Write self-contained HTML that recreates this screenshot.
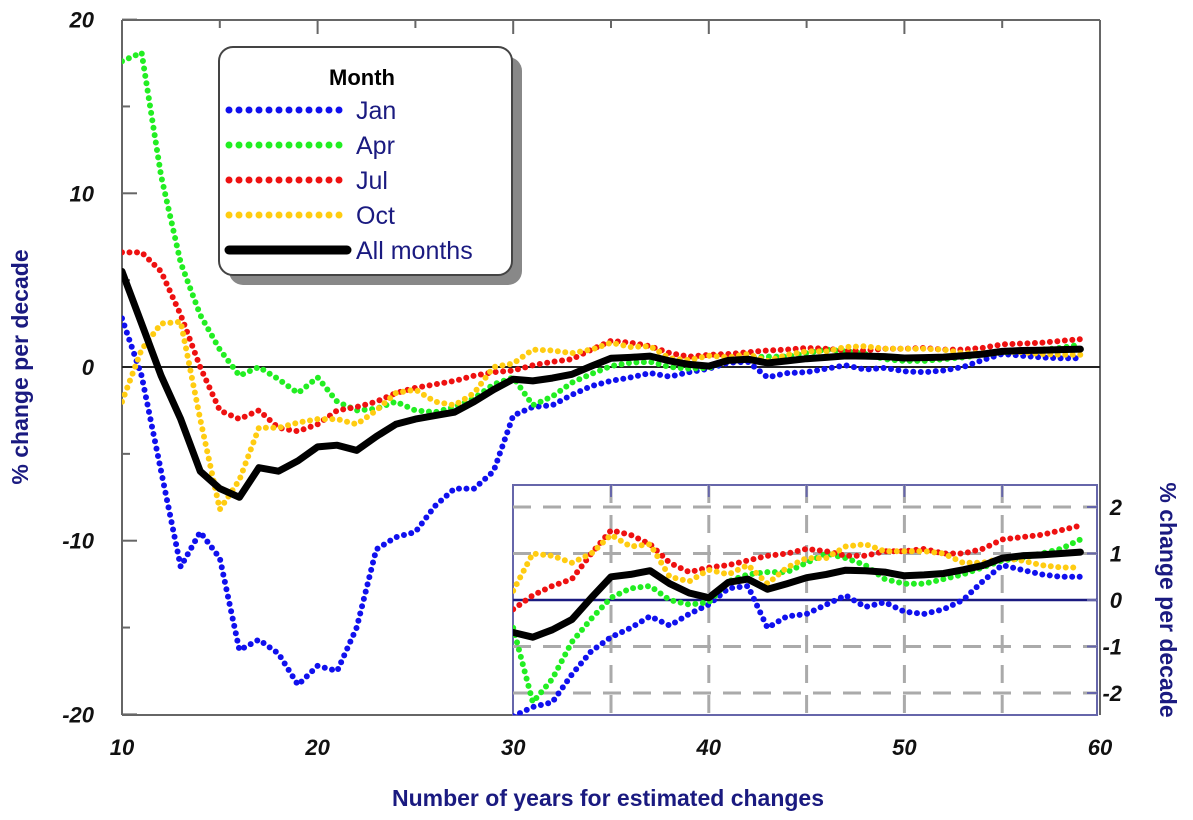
<!DOCTYPE html>
<html><head><meta charset="utf-8">
<style>
html,body{margin:0;background:#fff;overflow:hidden;width:1193px;height:820px;}
svg{display:block;font-family:"Liberation Sans",Arial,sans-serif;}
</style></head>
<body>
<svg id="chart" width="1193" height="820" viewBox="0 0 1193 820" xmlns="http://www.w3.org/2000/svg">
<defs>
<clipPath id="mainClip"><rect x="122" y="20" width="978" height="695"/></clipPath>
<clipPath id="insetClip"><rect x="513" y="485" width="584" height="230"/></clipPath>
</defs>
<g id="main-frame">
<line x1="122" y1="20" x2="1100" y2="20" stroke="#666" stroke-width="2"/>
<line x1="122" y1="20" x2="122" y2="715" stroke="#666" stroke-width="2"/>
<line x1="1100" y1="20" x2="1100" y2="715" stroke="#666" stroke-width="2"/>
<line x1="122" y1="715" x2="513" y2="715" stroke="#666" stroke-width="2"/>
</g>
<g id="ticks"></g>
<g id="series-main" clip-path="url(#mainClip)"></g>
<g id="inset-bg"></g>
<g id="series-inset" clip-path="url(#insetClip)"></g>
<g id="legend">
<rect x="229" y="57" width="293" height="228" rx="14" fill="#888"/>
<rect x="219" y="47" width="293" height="228" rx="14" fill="#fff" stroke="#444" stroke-width="2"/>
<text x="362" y="85" font-size="22" font-weight="bold" text-anchor="middle" fill="#000">Month</text>
</g>
<text x="608" y="806" font-size="23" font-weight="bold" text-anchor="middle" fill="#1a1a80">Number of years for estimated changes</text>
<text transform="translate(28,367) rotate(-90)" font-size="23" font-weight="bold" text-anchor="middle" fill="#1a1a80">% change per decade</text>
<text transform="translate(1160,600) rotate(90)" font-size="23" font-weight="bold" text-anchor="middle" fill="#1a1a80">% change per decade</text>
</svg>
<script>
const years = [10,11,12,13,14,15,16,17,18,19,20,21,22,23,24,25,26,27,28,29,30,31,32,33,34,35,36,37,38,39,40,41,42,43,44,45,46,47,48,49,50,51,52,53,54,55,56,57,58,59];
const janValues = [2.8,-0.5,-6,-11.5,-9.5,-11,-16.3,-15.7,-16.5,-18.3,-17.2,-17.5,-15,-10.5,-9.8,-9.5,-8,-7,-7,-6,-2.8,-2.3,-2.2,-1.6,-1.1,-0.8,-0.6,-0.35,-0.55,-0.3,-0.1,0.25,0.3,-0.6,-0.35,-0.3,-0.1,0.1,-0.15,-0.05,-0.25,-0.3,-0.2,0,0.4,0.75,0.65,0.55,0.5,0.5];
const aprValues = [17.6,18.1,11,6,3,1,-0.5,0,-0.7,-1.5,-0.6,-2,-2.5,-2.4,-2,-2.5,-2.6,-2.3,-1.8,-1,-0.6,-2.2,-1.7,-0.9,-0.4,0.05,0.25,0.3,0,-0.1,-0.05,0.4,0.55,0.6,0.6,0.8,1.0,0.9,0.75,0.45,0.35,0.35,0.45,0.55,0.7,0.85,0.9,1.0,1.1,1.3];
const julValues = [6.6,6.6,5.5,3,0,-2.5,-3,-2.5,-3.5,-3.7,-3.3,-2.5,-2.3,-2.0,-1.5,-1.2,-1,-0.8,-0.5,-0.3,-0.2,0.1,0.3,0.45,1.0,1.5,1.4,1.2,0.8,0.6,0.7,0.75,0.85,0.95,1.0,1.1,1.05,0.95,0.95,1.05,1.05,1.1,1.0,1.0,1.1,1.3,1.35,1.4,1.5,1.6];
const octValues = [-2,1,2.5,2.6,-3,-8.2,-6.5,-3.5,-3.5,-3.2,-3,-3,-3.3,-2.5,-1.5,-1.3,-2.0,-2.2,-1.5,0,0.2,1.0,0.95,0.8,1.0,1.4,1.15,1.2,0.5,0.4,0.65,0.55,0.75,0.35,0.7,0.9,0.9,1.15,1.2,1.05,1.05,1.05,1.0,0.8,0.8,0.9,0.85,0.75,0.7,0.7];
const allValues = [5.5,2.5,-0.5,-3,-6,-7,-7.5,-5.8,-6,-5.4,-4.6,-4.5,-4.8,-4,-3.3,-3,-2.8,-2.6,-2,-1.3,-0.7,-0.8,-0.64,-0.42,0.05,0.5,0.55,0.63,0.35,0.15,0.05,0.38,0.45,0.23,0.35,0.48,0.55,0.64,0.63,0.6,0.52,0.54,0.57,0.65,0.74,0.9,0.95,0.97,1.0,1.03];
const mainYTicks = [20,10,0,-10,-20];
const xTicks = [10,20,30,40,50,60];
const insetYTicks = [2,1,0,-1,-2];

const NS="http://www.w3.org/2000/svg";
const xs = v => 122 + (v-10)*19.56;
const ys = v => 367 - v*17.37;
const yi = v => 600 - Math.max(-2.5, Math.min(2.5, v))*46.5;
function mk(tag, attrs, parent){const e=document.createElementNS(NS,tag);for(const k in attrs)e.setAttribute(k,attrs[k]);parent.appendChild(e);return e;}
const ticks=document.getElementById('ticks');
mainYTicks.forEach(t=>{
  const l=mk('line',{x1:122,x2:137,y1:ys(t),y2:ys(t),stroke:'#666','stroke-width':2},ticks);
  
  
  const tx=mk('text',{x:94,y:ys(t)+8,'font-size':22,'font-weight':'bold','font-style':'italic','text-anchor':'end',fill:'#111'},ticks);
  tx.textContent=t;
  
  
});
[15,5,-5,-15].forEach(v=>{mk('line',{x1:122,x2:130,y1:ys(v),y2:ys(v),stroke:'#666','stroke-width':2},ticks);});
xTicks.forEach(t=>{
  const l=mk('line',{x1:xs(t),x2:xs(t),y1:20,y2:34,stroke:'#666','stroke-width':2},ticks);
  
  
  const tx=mk('text',{x:xs(t),y:755,'font-size':22,'font-weight':'bold','font-style':'italic','text-anchor':'middle',fill:'#111'},ticks);
  tx.textContent=t;
  
  
});
for(let v=15; v<60; v+=10){mk('line',{x1:xs(v),x2:xs(v),y1:20,y2:28,stroke:'#666','stroke-width':2},ticks);}
mk('line',{x1:122,x2:1100,y1:ys(0),y2:ys(0),stroke:'#222','stroke-width':2},ticks);

const ib=document.getElementById('inset-bg');
const ir=mk('rect',{x:513,y:485,width:584,height:230,fill:'#fff',stroke:'#6666aa','stroke-width':2},ib);


[-2,-1,1,2].forEach(t=>mk('line',{x1:513,x2:1097,y1:yi(t),y2:yi(t),stroke:'#aaa','stroke-width':3,'stroke-dasharray':'18 12'},ib));
for(let v=35; v<60; v+=5){mk('line',{x1:xs(v),x2:xs(v),y1:485,y2:715,stroke:'#aaa','stroke-width':3,'stroke-dasharray':'18 12'},ib);mk('line',{x1:xs(v),x2:xs(v),y1:485,y2:497,stroke:'#6666aa','stroke-width':2},ib);}
mk('line',{x1:513,x2:1097,y1:yi(0),y2:yi(0),stroke:'#1a1a80','stroke-width':2.5},ib);
insetYTicks.forEach(t=>{
  mk('line',{x1:1087,x2:1097,y1:yi(t),y2:yi(t),stroke:'#6666aa','stroke-width':2},ib);
  const tx=mk('text',{x:1122,y:yi(t)+8,'font-size':22,'font-weight':'bold','font-style':'italic','text-anchor':'end',fill:'#111'},ib);
  tx.textContent=t;
  
  
});

const series=[['jan',janValues,'#1010ee',false],['apr',aprValues,'#22ee22',false],['jul',julValues,'#ee1111',false],['oct',octValues,'#ffcc11',false],['all-months',allValues,'#000',true]];
function draw(parent,yf,tag,minYear){
  series.forEach(([n,vals,c,solid])=>{
    const pts=years.map((y,i)=>[y,vals[i]]).filter(d=>d[0]>=minYear).map(d=>xs(d[0]).toFixed(1)+','+yf(d[1]).toFixed(1)).join(' ');
    const a=solid?{points:pts,fill:'none',stroke:c,'stroke-width':7,'stroke-linejoin':'round','stroke-linecap':'round'}
                  :{points:pts,fill:'none',stroke:c,'stroke-width':6,'stroke-dasharray':'0 7.5','stroke-linecap':'round'};
    const p=mk('polyline',a,parent);
    
    
  });
}
draw(document.getElementById('series-main'),ys,'main',10);
draw(document.getElementById('series-inset'),yi,'inset',30);

const lg=document.getElementById('legend');
const labels=['Jan','Apr','Jul','Oct','All months'];
series.forEach(([n,vals,c,solid],i)=>{
  const y=110+i*35;
  const a=solid?{x1:229,x2:347,y1:y,y2:y,stroke:c,'stroke-width':9,'stroke-linecap':'round'}
                :{x1:229,x2:347,y1:y,y2:y,stroke:c,'stroke-width':7,'stroke-dasharray':'0 10','stroke-linecap':'round'};
  const l=mk('line',a,lg);
  
  
  const t=mk('text',{x:356,y:y+9,'font-size':25,fill:'#1a1a80'},lg);
  t.textContent=labels[i];
  
  
});
</script>
</body></html>
